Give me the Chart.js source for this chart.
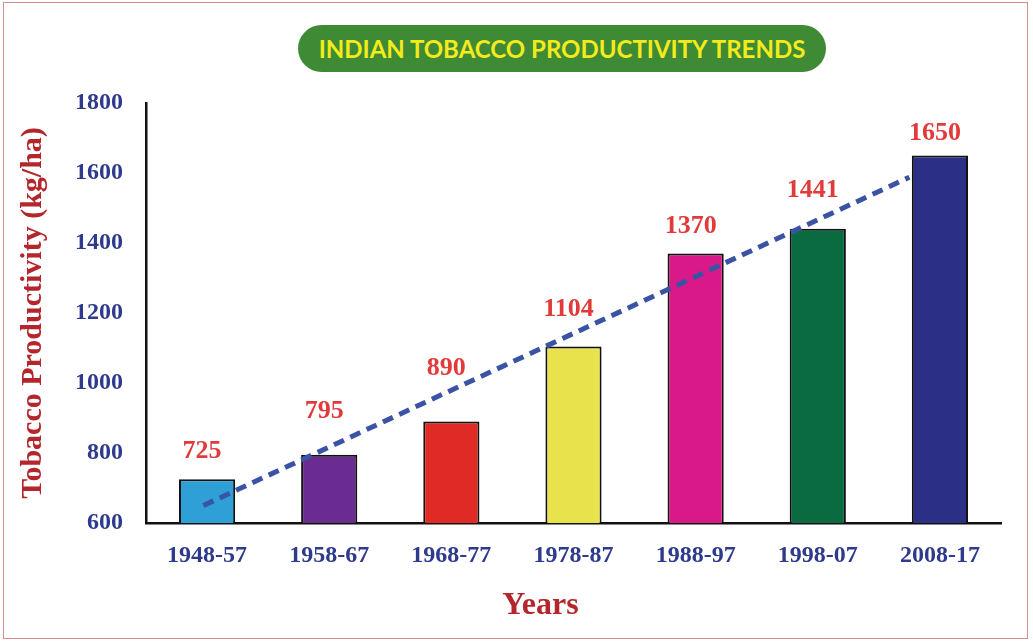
<!DOCTYPE html>
<html>
<head>
<meta charset="utf-8">
<script src="https://cdn.jsdelivr.net/npm/chart.js@4/dist/chart.umd.min.js"></script>
<style>
  html, body { margin: 0; padding: 0; background: #ffffff; }
  #wrap { position: relative; width: 1033px; height: 642px; overflow: hidden; }
  #frame {
    position: absolute; left: 3px; top: 2px; right: 5px; bottom: 3px;
    border: 1.5px solid #d98a8a; pointer-events: none;
  }
  #title {
    position: absolute; left: 298px; top: 25px; width: 528px; height: 47px;
    border-radius: 24px; background: #3f8a34; color: #f4ea1c;
    font: 700 24px Lato, "Open Sans", sans-serif; line-height: 47px;
    text-align: center; white-space: nowrap;
  }
  canvas { position: absolute; left: 0; top: 0; }
</style>
</head>
<body>
<div id="wrap">
  <canvas id="chart" width="1033" height="642"></canvas>
  <div id="title">INDIAN TOBACCO PRODUCTIVITY TRENDS</div>
  <div id="frame"></div>
</div>
<script>
// decades and mean productivity (kg/ha)
const periods = ['1948-57', '1958-67', '1968-77', '1978-87', '1988-97', '1998-07', '2008-17'];
const productivity = [725, 795, 890, 1104, 1370, 1441, 1650];
const barColors = ['#2f9fd8', '#6a2c91', '#e02a26', '#e8e24c', '#d9198a', '#0b6b40', '#2b2f86'];
// dashed trend line, start and end read in category units
const trendPoints = [{ x: -0.03, y: 650 }, { x: 5.75, y: 1588 }];
const yTicks = [600, 800, 1000, 1200, 1400, 1600, 1800];

const serif = '"Liberation Serif", "Times New Roman", serif';
const tickBlue = '#2e3a8c';
const titleRed = '#b3262b';

// lift of each value label above its bar (px)
const labelLift = [28, 43, 53, 37, 27, 38, 22];

const valueLabels = {
    id: 'valueLabels',
    afterDatasetsDraw(chart) {
        const ctx = chart.ctx;
        const meta = chart.getDatasetMeta(1);
        ctx.save();
        ctx.font = 'bold 26px ' + serif;
        ctx.fillStyle = '#e23a3a';
        ctx.textAlign = 'center';
        ctx.textBaseline = 'middle';
        meta.data.forEach((bar, i) => {
            ctx.fillText(productivity[i], bar.x - 5, bar.y - labelLift[i]);
        });
        ctx.restore();
    }
};

// "Years" sits a little left of the plot centre
const xTitle = {
    id: 'xTitle',
    afterDraw(chart) {
        const ctx = chart.ctx;
        const area = chart.chartArea;
        ctx.save();
        ctx.font = 'bold 32px ' + serif;
        ctx.fillStyle = titleRed;
        ctx.textAlign = 'center';
        ctx.textBaseline = 'middle';
        ctx.fillText('Years', (area.left + area.right) / 2 - 33, area.bottom + 83);
        ctx.restore();
    }
};

const ctx = document.getElementById('chart').getContext('2d');
new Chart(ctx, {
    type: 'bar',
    data: {
        labels: periods,
        datasets: [{
            type: 'line',
            data: trendPoints,
            xAxisID: 'xt',
            borderColor: '#3a53a4',
            borderWidth: 5,
            borderDash: [11, 7],
            pointRadius: 0,
            fill: false,
            order: 0
        }, {
            type: 'bar',
            data: productivity,
            xAxisID: 'x',
            backgroundColor: barColors,
            borderColor: '#111111',
            borderWidth: 2,
            borderSkipped: false,
            grouped: false,
            barPercentage: 0.46,
            categoryPercentage: 1,
            order: 1
        }]
    },
    options: {
        responsive: false,
        animation: false,
        layout: { padding: { left: 11, right: 32, top: 103, bottom: 14 } },
        plugins: {
            legend: { display: false },
            tooltip: { enabled: false }
        },
        scales: {
            x: {
                type: 'category',
                offset: true,
                grid: { display: false, offset: true },
                border: { display: true, color: '#111111', width: 2.5 },
                ticks: {
                    color: tickBlue,
                    font: { family: serif, size: 24, weight: 'bold' },
                    padding: 10,
                    maxRotation: 0
                },
                afterFit: s => { s.height = 105; }
            },
            xt: {
                type: 'linear',
                position: 'bottom',
                display: false,
                offset: false,
                grid: { offset: false },
                min: -0.5,
                max: 6.5
            },
            y: {
                min: 600,
                max: 1800,
                grid: { display: false },
                border: { display: true, color: '#111111', width: 2.5 },
                afterBuildTicks: s => { s.ticks = yTicks.map(v => ({ value: v })); },
                ticks: {
                    color: tickBlue,
                    font: { family: serif, size: 24, weight: 'bold' },
                    padding: 15,
                    callback: v => String(v)
                },
                title: {
                    display: true,
                    text: 'Tobacco Productivity (kg/ha)',
                    color: titleRed,
                    font: { family: serif, size: 30, weight: 'bold' }
                },
                afterFit: s => { s.width = 135; }
            }
        }
    },
    plugins: [valueLabels, xTitle]
});
</script>
</body>
</html>
